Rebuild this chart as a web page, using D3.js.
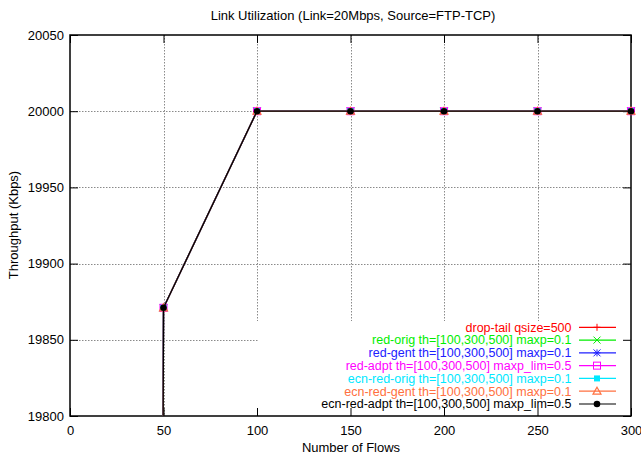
<!DOCTYPE html>
<html>
<head>
<meta charset="utf-8">
<script src="https://cdn.jsdelivr.net/npm/d3@7"></script>
<style>
  html, body { margin: 0; padding: 0; background: #fff; }
  svg { display: block; font-family: "Liberation Sans", Arial, Helvetica, sans-serif; }
</style>
</head>
<body>
<svg id="chart" width="641" height="459"></svg>
<script>
// ---- data ----
const flows = [0, 50, 100, 150, 200, 250, 300];
const dropTail     = [0, 19871, 20000, 20000, 20000, 20000, 20000];
const redOrig      = [0, 19871, 20000, 20000, 20000, 20000, 20000];
const redGent      = [0, 19871, 20000, 20000, 20000, 20000, 20000];
const redAdpt      = [0, 19871, 20000, 20000, 20000, 20000, 20000];
const ecnRedOrig   = [0, 19871, 20000, 20000, 20000, 20000, 20000];
const ecnRedGent   = [0, 19871, 20000, 20000, 20000, 20000, 20000];
const ecnRedAdpt   = [0, 19871, 20000, 20000, 20000, 20000, 20000];
const seriesNames = [
  "drop-tail qsize=500",
  "red-orig th=[100,300,500] maxp=0.1",
  "red-gent th=[100,300,500] maxp=0.1",
  "red-adpt th=[100,300,500] maxp_lim=0.5",
  "ecn-red-orig th=[100,300,500] maxp=0.1",
  "ecn-red-gent th=[100,300,500] maxp=0.1",
  "ecn-red-adpt th=[100,300,500] maxp_lim=0.5"
];
const seriesValues = [dropTail, redOrig, redGent, redAdpt, ecnRedOrig, ecnRedGent, ecnRedAdpt];
const seriesColors = ["#ff0000", "#00ee00", "#2020ff", "#ff00ff", "#00e8ff", "#ff7040", "#000000"];
const seriesMarkers = ["plus", "cross", "star", "openSquare", "filledSquare", "triangle", "filledCircle"];
const xTicks = [0, 50, 100, 150, 200, 250, 300];
const yTicks = [19800, 19850, 19900, 19950, 20000, 20050];
const titleText = "Link Utilization (Link=20Mbps, Source=FTP-TCP)";
const xLabel = "Number of Flows";
const yLabel = "Throughput (Kbps)";

// ---- layout ----
const W = 641, H = 459;
const m = { left: 70, right: 10, top: 35, bottom: 43 };
const svg = d3.select("#chart");
const x = d3.scaleLinear().domain([0, 300]).range([m.left, W - m.right]);
const y = d3.scaleLinear().domain([19800, 20050]).range([H - m.bottom, m.top]);
const x0 = x.range()[0], x1 = x.range()[1], y0 = y.range()[0], y1 = y.range()[1];

// legend box region (grid hidden there)
const keyLeft = 256, keyTop = 321, hGridEnd = 258;

// grid
const grid = svg.append("g").attr("stroke", "#8a8a8a").attr("stroke-width", 1)
  .attr("stroke-dasharray", "1.5,1.5").attr("fill", "none");
xTicks.filter(t => t > 0 && t < 300).forEach(t => {
  const px = Math.round(x(t)) + 0.5;
  const bottom = px >= keyLeft ? keyTop : y0;
  grid.append("line").attr("x1", px).attr("x2", px).attr("y1", y1).attr("y2", bottom);
});
yTicks.filter(t => t > 19800 && t < 20050).forEach(t => {
  const py = Math.round(y(t)) + 0.5;
  const right = py >= keyTop ? hGridEnd : x1;
  grid.append("line").attr("x1", x0).attr("x2", right).attr("y1", py).attr("y2", py);
});

// axes (inward ticks, mirrored)
const tl = 8;
const axB = svg.append("g").attr("transform", `translate(0,${y0})`)
  .call(d3.axisBottom(x).tickValues(xTicks).tickSizeInner(-tl).tickSizeOuter(0).tickPadding(10));
const axT = svg.append("g").attr("transform", `translate(0,${y1})`)
  .call(d3.axisTop(x).tickValues(xTicks).tickSizeInner(-tl).tickSizeOuter(0).tickFormat(""));
const axL = svg.append("g").attr("transform", `translate(${x0},0)`)
  .call(d3.axisLeft(y).tickValues(yTicks).tickSizeInner(-tl).tickSizeOuter(0).tickPadding(6).tickFormat(d3.format("d")));
const axR = svg.append("g").attr("transform", `translate(${x1},0)`)
  .call(d3.axisRight(y).tickValues(yTicks).tickSizeInner(-tl).tickSizeOuter(0).tickFormat(""));
[axB, axT, axL, axR].forEach(a => {
  a.select(".domain").remove();
  a.selectAll(".tick line").attr("stroke", "#000").attr("stroke-width", 1);
  a.selectAll("text").attr("fill", "#000").attr("font-size", 13)
    .attr("font-family", '"Liberation Sans", Arial, sans-serif');
});

// border
svg.append("rect").attr("x", x0).attr("y", y1).attr("width", x1 - x0).attr("height", y0 - y1)
  .attr("fill", "none").attr("stroke", "#000").attr("stroke-width", 1.5);

// markers
function drawMarker(g, type, cx, cy, color) {
  const s = 3.5;
  if (type === "plus") {
    g.append("path").attr("d", `M${cx - s},${cy}H${cx + s}M${cx},${cy - s}V${cy + s}`)
      .attr("stroke", color).attr("stroke-width", 1).attr("fill", "none");
  } else if (type === "cross") {
    g.append("path").attr("d", `M${cx - s},${cy - s}L${cx + s},${cy + s}M${cx - s},${cy + s}L${cx + s},${cy - s}`)
      .attr("stroke", color).attr("stroke-width", 1).attr("fill", "none");
  } else if (type === "star") {
    g.append("path").attr("d", `M${cx - s},${cy}H${cx + s}M${cx},${cy - s}V${cy + s}M${cx - s},${cy - s}L${cx + s},${cy + s}M${cx - s},${cy + s}L${cx + s},${cy - s}`)
      .attr("stroke", color).attr("stroke-width", 1).attr("fill", "none");
  } else if (type === "openSquare") {
    g.append("rect").attr("x", cx - s).attr("y", cy - s).attr("width", 2 * s).attr("height", 2 * s)
      .attr("stroke", color).attr("stroke-width", 1).attr("fill", "none");
  } else if (type === "filledSquare") {
    g.append("rect").attr("x", cx - 3).attr("y", cy - 3).attr("width", 6).attr("height", 6)
      .attr("fill", color);
  } else if (type === "triangle") {
    g.append("path").attr("d", `M${cx},${cy - 4}L${cx + 4},${cy + 3}L${cx - 4},${cy + 3}Z`)
      .attr("stroke", color).attr("stroke-width", 1.2).attr("fill", "none");
  } else if (type === "filledCircle") {
    g.append("circle").attr("cx", cx).attr("cy", cy).attr("r", 3.3).attr("fill", color);
  }
}

// clip
svg.append("clipPath").attr("id", "plotclip").append("rect")
  .attr("x", x0).attr("y", y1).attr("width", x1 - x0).attr("height", y0 - y1);

const line = d3.line().x((d, i) => x(flows[i])).y(d => y(d));
const plot = svg.append("g");
seriesValues.forEach((vals, k) => {
  plot.append("path").datum(vals).attr("d", line).attr("clip-path", "url(#plotclip)")
    .attr("fill", "none").attr("stroke", seriesColors[k]).attr("stroke-width", 1.3);
  const mg = plot.append("g");
  vals.forEach((v, i) => {
    if (v >= 19800 && v <= 20050 && flows[i] >= 0 && flows[i] <= 300) {
      drawMarker(mg, seriesMarkers[k], x(flows[i]), y(v), seriesColors[k]);
    }
  });
});

// legend
const lg = svg.append("g");
seriesNames.forEach((name, k) => {
  const cy = 327.3 + k * 12.78;
  lg.append("text").attr("x", 571.5).attr("y", cy).attr("dy", "0.35em")
    .attr("text-anchor", "end").attr("font-size", 12.5).attr("fill", seriesColors[k])
    .text(name);
  lg.append("line").attr("x1", 579).attr("x2", 616).attr("y1", cy).attr("y2", cy)
    .attr("stroke", seriesColors[k]).attr("stroke-width", 1.2);
  drawMarker(lg, seriesMarkers[k], 597, cy, seriesColors[k]);
});

// title and labels
svg.append("text").attr("x", 353).attr("y", 20).attr("text-anchor", "middle")
  .attr("font-size", 13).attr("fill", "#000").text(titleText);
svg.append("text").attr("x", 351).attr("y", 452).attr("text-anchor", "middle")
  .attr("font-size", 13).attr("fill", "#000").text(xLabel);
svg.append("text").attr("transform", "translate(18,225) rotate(-90)").attr("text-anchor", "middle")
  .attr("font-size", 13).attr("fill", "#000").text(yLabel);
</script>
</body>
</html>
